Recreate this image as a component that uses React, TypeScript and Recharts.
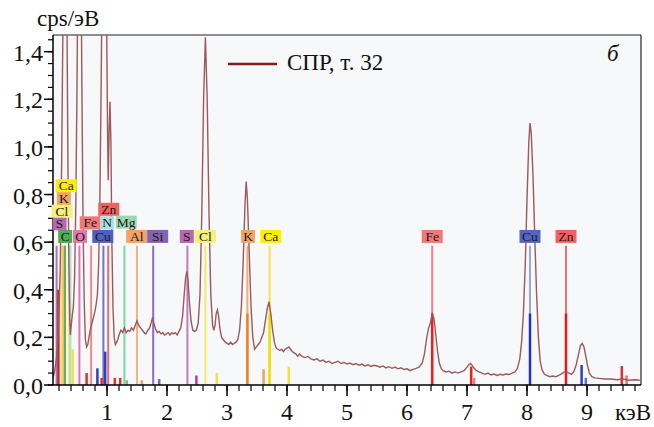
import React from 'react';
import { ComposedChart, Line, XAxis, YAxis, CartesianGrid, ReferenceLine, ReferenceDot, Label } from 'recharts';

// spectrum, keV / cps per eV
const energies = [
  0.1, 0.13, 0.16, 0.19, 0.22, 0.245, 0.265, 0.28, 0.3, 0.32, 0.335, 0.35, 0.365, 0.38, 0.39, 0.4, 0.42, 0.44, 0.46, 0.48,
  0.5, 0.51, 0.54, 0.57, 0.58, 0.6, 0.62, 0.64, 0.66, 0.68, 0.7, 0.72, 0.74, 0.76, 0.78, 0.8, 0.82, 0.84, 0.86, 0.88,
  0.9, 0.915, 0.935, 0.955, 0.975, 0.995, 1.01, 1.02, 1.035, 1.05, 1.065, 1.08, 1.1, 1.12, 1.14, 1.16, 1.18, 1.2, 1.23, 1.26,
  1.29, 1.32, 1.35, 1.38, 1.41, 1.44, 1.47, 1.5, 1.53, 1.56, 1.59, 1.62, 1.65, 1.68, 1.71, 1.74, 1.76, 1.78, 1.81, 1.84,
  1.87, 1.9, 1.93, 1.96, 1.99, 2.02, 2.05, 2.08, 2.11, 2.14, 2.17, 2.2, 2.23, 2.26, 2.29, 2.31, 2.33, 2.35, 2.37, 2.4,
  2.43, 2.46, 2.49, 2.52, 2.55, 2.58, 2.61, 2.64, 2.67, 2.7, 2.73, 2.76, 2.78, 2.8, 2.82, 2.84, 2.86, 2.88, 2.91, 2.94,
  2.97, 3.0, 3.03, 3.06, 3.09, 3.12, 3.15, 3.18, 3.21, 3.24, 3.27, 3.3, 3.32, 3.34, 3.37, 3.4, 3.43, 3.46, 3.49, 3.52,
  3.55, 3.58, 3.61, 3.64, 3.67, 3.7, 3.73, 3.76, 3.79, 3.82, 3.85, 3.88, 3.91, 3.94, 3.97, 4.0, 4.03, 4.06, 4.09, 4.12,
  4.15, 4.18, 4.21, 4.25, 4.3, 4.35, 4.4, 4.45, 4.5, 4.55, 4.6, 4.65, 4.7, 4.75, 4.8, 4.85, 4.9, 4.95, 5.0, 5.05,
  5.1, 5.15, 5.2, 5.25, 5.3, 5.35, 5.4, 5.45, 5.5, 5.55, 5.6, 5.65, 5.7, 5.75, 5.8, 5.85, 5.9, 5.95, 6.0, 6.05,
  6.1, 6.15, 6.2, 6.25, 6.29, 6.33, 6.36, 6.39, 6.42, 6.45, 6.48, 6.51, 6.54, 6.57, 6.6, 6.65, 6.7, 6.75, 6.8, 6.85,
  6.9, 6.95, 7.0, 7.03, 7.06, 7.09, 7.12, 7.16, 7.2, 7.25, 7.3, 7.35, 7.4, 7.45, 7.5, 7.55, 7.6, 7.65, 7.7, 7.75,
  7.8, 7.84, 7.88, 7.91, 7.94, 7.97, 8.0, 8.03, 8.05, 8.07, 8.1, 8.13, 8.16, 8.19, 8.22, 8.25, 8.29, 8.33, 8.38, 8.43,
  8.48, 8.53, 8.58, 8.62, 8.66, 8.7, 8.74, 8.78, 8.82, 8.86, 8.89, 8.92, 8.95, 8.98, 9.01, 9.04, 9.08, 9.13, 9.2, 9.3,
  9.4, 9.5, 9.6, 9.7, 9.8, 9.88,
];
const counts = [
  0.03, 0.06, 0.12, 0.25, 0.48, 0.95, 1.5, 2.1, 2.6, 2.0, 1.45, 0.9, 0.5, 0.26, 0.21, 0.24, 0.29, 0.33, 0.45, 0.75,
  1.25, 1.6, 2.6, 1.7, 1.3, 0.7, 0.35, 0.19, 0.16, 0.17, 0.2, 0.23, 0.25, 0.27, 0.29, 0.31, 0.34, 0.38, 0.5, 0.75,
  1.2, 1.6, 2.2, 2.5, 2.1, 1.5, 1.05, 0.86, 1.06, 1.19, 1.02, 0.62, 0.32, 0.2, 0.17, 0.18, 0.19, 0.21, 0.23, 0.22,
  0.24, 0.22, 0.23, 0.225, 0.24, 0.23, 0.25, 0.27, 0.25, 0.24, 0.23, 0.22, 0.215, 0.23, 0.24, 0.265, 0.285, 0.26, 0.235, 0.22,
  0.225, 0.215, 0.22, 0.21, 0.215, 0.22, 0.21, 0.22, 0.215, 0.22, 0.21, 0.225, 0.24, 0.29, 0.39, 0.45, 0.477, 0.44, 0.36, 0.27,
  0.23, 0.225, 0.23, 0.26, 0.38, 0.72, 1.2, 1.46, 1.2, 0.72, 0.38, 0.25, 0.23, 0.25, 0.3, 0.315, 0.29, 0.24, 0.2, 0.19,
  0.18, 0.175, 0.17, 0.18, 0.17, 0.175, 0.18, 0.19, 0.23, 0.33, 0.52, 0.76, 0.855, 0.78, 0.56, 0.33, 0.2, 0.15, 0.16, 0.17,
  0.18, 0.2, 0.22, 0.27, 0.32, 0.35, 0.3, 0.23, 0.18, 0.155, 0.15, 0.145, 0.15, 0.14, 0.15, 0.155, 0.16, 0.15, 0.14, 0.135,
  0.13, 0.12, 0.13, 0.12, 0.115, 0.12, 0.11, 0.105, 0.11, 0.1, 0.105, 0.095, 0.1, 0.09, 0.095, 0.1, 0.09, 0.095, 0.088, 0.092,
  0.085, 0.09, 0.083, 0.088, 0.08, 0.085, 0.078, 0.083, 0.08, 0.075, 0.08, 0.072, 0.077, 0.07, 0.075, 0.068, 0.072, 0.065, 0.068, 0.06,
  0.066, 0.07, 0.075, 0.09, 0.13, 0.2, 0.24, 0.26, 0.3, 0.28, 0.21, 0.14, 0.09, 0.07, 0.06, 0.055, 0.058, 0.05, 0.055, 0.05,
  0.055, 0.06, 0.075, 0.085, 0.09, 0.08, 0.07, 0.06, 0.055, 0.05, 0.045, 0.05, 0.042, 0.046, 0.04, 0.045, 0.042, 0.046, 0.044, 0.05,
  0.055, 0.07, 0.11, 0.18, 0.3, 0.5, 0.78, 1.02, 1.1, 1.06, 0.88, 0.62, 0.38, 0.2, 0.1, 0.065, 0.045, 0.04, 0.035, 0.038,
  0.035, 0.04, 0.048, 0.055, 0.055, 0.05, 0.045, 0.055, 0.085, 0.13, 0.165, 0.175, 0.16, 0.12, 0.08, 0.05, 0.035, 0.03, 0.028, 0.025,
  0.025, 0.022, 0.025, 0.02, 0.022, 0.02,
];

// element marker lines (full height)
const tallEnergy = [0.16, 0.235, 0.27, 0.3, 0.37, 0.39, 0.54, 0.735, 0.94, 1.02, 1.29, 1.5, 1.77, 2.34, 2.64, 3.34, 3.71, 6.42, 8.05, 8.65];
const tallColor = ['#a874c4', '#f2ea6a', '#f4b47a', '#62b446', '#f2e44a', '#a6dede', '#e276b4', '#f08a8a', '#6a78cc', '#f06a6a',
  '#86d2a6', '#f4b47e', '#8a6cc2', '#c27cc2', '#f2ea6a', '#f4aa72', '#f2e44a', '#f08080', '#9aa4e2', '#f07070'];
const tallTop = 0.585;

// short intensity bars
const barEnergy = [0.19, 0.43, 0.66, 0.84, 0.91, 0.97, 1.13, 1.22, 1.33, 1.58, 1.87, 2.49, 2.83, 3.34, 3.61, 3.71, 4.03, 6.42, 7.07, 7.12, 8.05, 8.65, 8.91, 8.98, 9.58, 9.66];
const barHeight = [0.4, 0.15, 0.05, 0.07, 0.03, 0.14, 0.03, 0.03, 0.02, 0.02, 0.025, 0.04, 0.05, 0.3, 0.066, 0.3, 0.077, 0.3, 0.077, 0.03, 0.3, 0.3, 0.084, 0.03, 0.08, 0.04];
const barColor = ['#c02848', '#f0e040', '#e03030', '#3040c0', '#e03030', '#3040c0', '#e03030', '#e03030', '#70c090', '#f0a060', '#8060c0', '#b040a0', '#f0e040',
  '#f08020', '#f0a060', '#f0e000', '#f0e040', '#e82020', '#e82020', '#f08080', '#2030c0', '#e81818', '#3040c0', '#6070d0', '#e03030', '#f07070'];

// element labels
const labelName = ['C', 'O', 'Cu', 'Al', 'Si', 'S', 'Cl', 'K', 'Ca', 'Fe', 'Cu', 'Zn', 'S', 'Fe', 'N', 'Mg', 'Cl', 'Zn', 'K', 'Ca'];
const labelEnergy = [0.303, 0.55, 0.93, 1.495, 1.845, 2.33, 2.64, 3.35, 3.73, 6.42, 8.05, 8.65, 0.21, 0.72, 1.0, 1.32, 0.25, 1.03, 0.28, 0.32];
const labelLevel = [0.624, 0.624, 0.624, 0.624, 0.624, 0.624, 0.624, 0.624, 0.624, 0.624, 0.624, 0.624, 0.677, 0.681, 0.681, 0.684, 0.73, 0.738, 0.784, 0.837];
const labelColor = ['#4cae4c', '#e27ab0', '#5060c0', '#f2a262', '#8262b2', '#b868b2', '#f6f07a', '#f4a462', '#ffee00', '#f07878', '#5464c4', '#f06262',
  '#b868b2', '#f07878', '#a8e0e0', '#9ad8b2', '#f6f07a', '#f06262', '#f4a462', '#ffee00'];

const xTicks = [0.2, 0.4, 0.6, 0.8, 1, 1.2, 1.4, 1.6, 1.8, 2, 2.2, 2.4, 2.6, 2.8, 3, 3.2, 3.4, 3.6, 3.8, 4, 4.2, 4.4, 4.6, 4.8, 5,
  5.2, 5.4, 5.6, 5.8, 6, 6.2, 6.4, 6.6, 6.8, 7, 7.2, 7.4, 7.6, 7.8, 8, 8.2, 8.4, 8.6, 8.8, 9, 9.2, 9.4, 9.6, 9.8];
const xLabels = ['1', '2', '3', '4', '5', '6', '7', '8', '9'];
const yTicks = [0, 0.05, 0.1, 0.15, 0.2, 0.25, 0.3, 0.35, 0.4, 0.45, 0.5, 0.55, 0.6, 0.65, 0.7, 0.75, 0.8, 0.85, 0.9, 0.95, 1,
  1.05, 1.1, 1.15, 1.2, 1.25, 1.3, 1.35, 1.4, 1.45];
const yMajor = [0, 0.2, 0.4, 0.6, 0.8, 1, 1.2, 1.4];
const yLabels = ['0,0', '0,2', '0,4', '0,6', '0,8', '1,0', '1,2', '1,4'];

const spectrum = energies.map((e, i) => ({ e, cps: counts[i] }));

const FONT = '"Liberation Serif", "DejaVu Serif", serif';
const txt = (size: number, extra: React.CSSProperties = {}) => ({ fontFamily: FONT, fontSize: size, ...extra });

const XTick = (props: any) => {
  const { x, y, payload } = props;
  const axisY = y - 8;
  const idx = xLabels.indexOf(String(payload.value));
  if (idx < 0) return null;
  return (
    <g>
      <line x1={x} x2={x} y1={axisY} y2={axisY + 11} stroke="#000" strokeWidth={1.5} />
      <text x={x} y={axisY + 35} textAnchor="middle" style={txt(24)} fill="#111">{xLabels[idx]}</text>
    </g>
  );
};

const YTick = (props: any) => {
  const { x, y, payload } = props;
  const axisX = x + 7;
  const idx = yMajor.findIndex(v => Math.abs(v - payload.value) < 1e-6);
  if (idx < 0) return null;
  return (
    <g>
      <line x1={axisX - 9} x2={axisX} y1={y} y2={y} stroke="#000" strokeWidth={1.5} />
      <text x={axisX - 10} y={y + 9} textAnchor="end" style={txt(24)} fill="#111">{yLabels[idx]}</text>
    </g>
  );
};

const App = () => {
  return (
    <div style={{ position: 'absolute', left: 0, top: 0, background: '#fff' }}>
      <ComposedChart width={654} height={427} margin={{ top: 35, right: 13, bottom: 0, left: 0 }}>
        <CartesianGrid horizontal={false} vertical={false} fill="#f6f8f9" />
        <XAxis
          dataKey="e"
          type="number"
          domain={[0.1, 9.9]}
          allowDataOverflow
          ticks={xTicks}
          interval={0}
          height={42}
          tickSize={6}
          tickMargin={2}
          axisLine={{ stroke: '#000', strokeWidth: 1.5 }}
          tickLine={{ stroke: '#000', strokeWidth: 1.2 }}
          tick={<XTick />}
        >
          <Label
            content={(p: any) => (
              <text x={p.viewBox.x + p.viewBox.width - 26} y={p.viewBox.y + 35} style={txt(23)} fill="#111">кэВ</text>
            )}
          />
        </XAxis>
        <YAxis
          type="number"
          domain={[0, 1.47]}
          allowDataOverflow
          ticks={yTicks}
          interval={0}
          width={53}
          tickSize={5}
          tickMargin={2}
          axisLine={{ stroke: '#000', strokeWidth: 1.5 }}
          tickLine={{ stroke: '#000', strokeWidth: 1.2 }}
          tick={<YTick />}
        >
          <Label
            content={(p: any) => (
              <text x={p.viewBox.x + 37} y={p.viewBox.y - 9} style={txt(23)} fill="#111">cps/эВ</text>
            )}
          />
        </YAxis>
        <ReferenceLine y={1.47} stroke="#222" strokeWidth={1.2} />
        <ReferenceLine x={9.9} stroke="#222" strokeWidth={1.2} />
        {tallEnergy.map((e, i) => (
          <ReferenceLine key={'t' + i} segment={[{ x: e, y: 0 }, { x: e, y: tallTop }]} stroke={tallColor[i]} strokeWidth={2} />
        ))}
        {barEnergy.map((e, i) => (
          <ReferenceLine key={'b' + i} segment={[{ x: e, y: 0 }, { x: e, y: barHeight[i] }]} stroke={barColor[i]} strokeWidth={2.5} />
        ))}
        <Line
          data={spectrum}
          dataKey="cps"
          type="linear"
          stroke="#9c5a5a"
          strokeWidth={1.4}
          dot={false}
          isAnimationActive={false}
        />
        {labelName.map((n, i) => (
          <ReferenceDot
            key={'l' + i}
            x={labelEnergy[i]}
            y={labelLevel[i]}
            r={0}
            ifOverflow="visible"
            shape={(p: any) => {
              const w = n.length === 1 ? 14 : 21;
              return (
                <g>
                  <rect x={p.cx - w / 2} y={p.cy - 6.5} width={w} height={13} fill={labelColor[i]} />
                  <text x={p.cx} y={p.cy + 4.5} textAnchor="middle" style={txt(13.5)} fill="#1a1a1a">{n}</text>
                </g>
              );
            }}
          />
        ))}
        <g>
          <line x1={228} x2={277} y1={64} y2={64} stroke="#8b1a1a" strokeWidth={2.5} />
          <text x={287} y={69.5} style={txt(23)} fill="#111">СПР, т. 32</text>
          <text x={607} y={61} style={txt(23, { fontStyle: 'italic' })} fill="#111">б</text>
        </g>
      </ComposedChart>
    </div>
  );
};

export default App;
